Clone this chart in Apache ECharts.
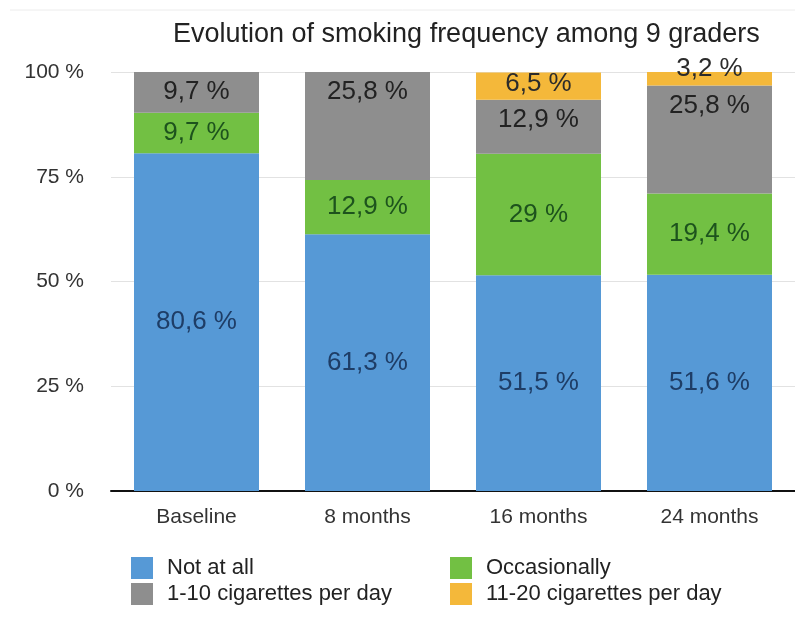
<!DOCTYPE html>
<html><head><meta charset="utf-8">
<script src="https://cdn.jsdelivr.net/npm/echarts@6/dist/echarts.min.js"></script>
<style>html,body{margin:0;padding:0;background:#fff}#c{width:795px;height:618px}</style>
</head><body><div id="c"></div>
<script>
var categories = ['Baseline', '8 months', '16 months', '24 months'];
var notAtAll = [80.6, 61.3, 51.5, 51.6];
var occasionally = [9.7, 12.9, 29, 19.4];
var cig1to10 = [9.7, 25.8, 12.9, 25.8];
var cig11to20 = [0, 0, 6.5, 3.2];
var yTicks = [0, 25, 50, 75, 100];

function fmt(v){ return String(v).replace('.', ','); }
var font = '"Liberation Sans", Arial, Helvetica, sans-serif';
function lab(color, pos, dist){
  return {show:true, position:pos, distance:dist||0, color:color, fontSize:26, fontFamily:font,
    formatter:function(p){ return p.value ? fmt(p.value) + ' %' : ''; }};
}
var chart = echarts.init(document.getElementById('c'));
chart.setOption({
  animation:false,
  backgroundColor:'#fff',
  title:{text:'Evolution of smoking frequency among 9 graders', left:168, top:16,
    textStyle:{fontFamily:font, fontSize:27, fontWeight:'normal', color:'#222'}},
  graphic:[{type:'line', shape:{x1:10,y1:10,x2:795,y2:10}, style:{stroke:'#ececec', lineWidth:1}}],
  legend:[
    {data:['Not at all','1-10 cigarettes per day'], orient:'vertical', left:126, top:552,
     itemWidth:22, itemHeight:22, itemGap:4, icon:'rect',
     textStyle:{fontFamily:font, fontSize:22, color:'#222', padding:[0,0,0,9]}},
    {data:['Occasionally','11-20 cigarettes per day'], orient:'vertical', left:445, top:552,
     itemWidth:22, itemHeight:22, itemGap:4, icon:'rect',
     textStyle:{fontFamily:font, fontSize:22, color:'#222', padding:[0,0,0,9]}}
  ],
  grid:{left:111, right:-9, top:72, bottom:127, containLabel:false},
  xAxis:{type:'category', data:categories,
    axisLine:{lineStyle:{color:'#111', width:2}}, axisTick:{show:false},
    axisLabel:{fontFamily:font, fontSize:21, color:'#333', margin:16}},
  yAxis:{type:'value', min:yTicks[0], max:yTicks[yTicks.length-1], interval:25,
    axisLine:{show:false}, axisTick:{show:false},
    splitLine:{lineStyle:{color:'#e2e2e2', width:1}},
    axisLabel:{fontFamily:font, fontSize:21, color:'#333', margin:27,
      formatter:function(v){ return v + ' %'; }}},
  series:[
    {name:'Not at all', type:'bar', stack:'s', data:notAtAll, barWidth:125,
     itemStyle:{color:'#5699d6'}, label:lab('#1e3d66','inside')},
    {name:'Occasionally', type:'bar', stack:'s', data:occasionally,
     itemStyle:{color:'#72c043'}, label:lab('#1d531d','inside')},
    {name:'1-10 cigarettes per day', type:'bar', stack:'s', data:cig1to10,
     itemStyle:{color:'#8e8e8e'}, label:lab('#222','insideTop',7)},
    {name:'11-20 cigarettes per day', type:'bar', stack:'s',
     data:cig11to20.map(function(v,i){
       return i===3 ? {value:v, label:{position:'inside', offset:[0,-10]}} : v; }),
     itemStyle:{color:'#f4b83a'}, label:lab('#2b2b2b','insideTop',-2)}
  ]
});
</script></body></html>
